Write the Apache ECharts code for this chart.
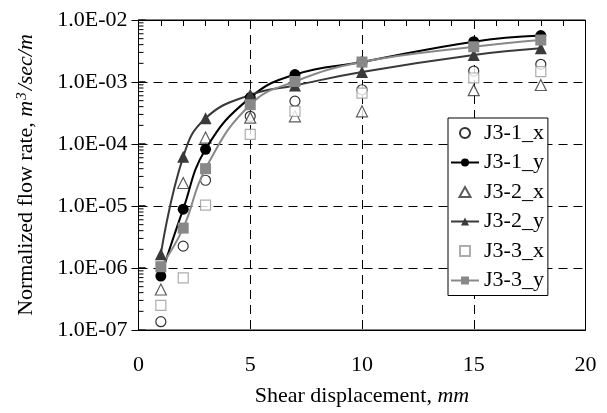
<!DOCTYPE html>
<html>
<head>
<meta charset="utf-8">
<script src="https://cdn.jsdelivr.net/npm/echarts@6/dist/echarts.min.js"></script>
<style>
html,body{margin:0;padding:0;background:#fff;}
#chart{width:607px;height:413px;}
</style>
</head>
<body>
<div id="chart"></div>
<script>
// ---- data ----
var shearDisp = [1, 2, 3, 5, 7, 10, 15, 18];
var j31x = [1.36e-7, 2.25e-6, 2.6e-5, 2.8e-4, 4.9e-4, 7.5e-4, 1.5e-3, 1.93e-3];
var j31y = [7.4e-7, 8.9e-6, 8.2e-5, 5.6e-4, 1.32e-3, 2.1e-3, 4.47e-3, 5.6e-3];
var j32x = [4.5e-7, 2.35e-5, 1.27e-4, 2.66e-4, 2.8e-4, 3.37e-4, 7.4e-4, 8.95e-4];
var j32y = [1.66e-6, 6.2e-5, 2.6e-4, 6.2e-4, 8.8e-4, 1.45e-3, 2.72e-3, 3.5e-3];
var j33x = [2.5e-7, 6.95e-7, 1.03e-5, 1.43e-4, 3.37e-4, 6.6e-4, 1.16e-3, 1.47e-3];
var j33y = [1.05e-6, 4.4e-6, 4.0e-5, 4.3e-4, 1.02e-3, 2.1e-3, 3.7e-3, 4.75e-3];
var seriesNames = ['J3-1_x', 'J3-1_y', 'J3-2_x', 'J3-2_y', 'J3-3_x', 'J3-3_y'];
var xTicks = [0, 5, 10, 15, 20];
var yMin = 1e-7, yMax = 1e-2;

function pairs(ys) { return shearDisp.map(function (x, i) { return [x, ys[i]]; }); }

var FONT = 'Liberation Serif';

function openSeries(name, data, symbol, size, border) {
  return {
    name: name, type: 'scatter', data: pairs(data), symbol: symbol, symbolSize: size,
    itemStyle: { color: '#fff', borderColor: border, borderWidth: 1.2 }, z: 3
  };
}
function lineSeries(name, data, symbol, size, color) {
  return {
    name: name, type: 'line', data: pairs(data), symbol: symbol, symbolSize: size,
    smooth: 0.45, showSymbol: true,
    lineStyle: { color: color, width: 2 },
    itemStyle: { color: color, borderColor: color, borderWidth: 0 }, z: 4
  };
}

// legend icons for marker-only series (path icons keep their aspect ratio)
var legendIcons = {
  'J3-1_x': 'path://M5,1 A4,4 0 1 1 4.99,1 Z',
  'J3-2_x': 'path://M0,10 L5,1 L10,10 Z',
  'J3-3_x': 'path://M0,0 L10,0 L10,10 L0,10 Z'
};

var chart = echarts.init(document.getElementById('chart'), null, { renderer: 'canvas' });

var option = {
  animation: false,
  backgroundColor: '#fff',
  textStyle: { fontFamily: FONT, color: '#000' },
  grid: { left: 138.5, right: 21.5, top: 20, bottom: 83, show: true, borderColor: '#000', borderWidth: 1, backgroundColor: 'transparent' },
  legend: {
    orient: 'vertical', left: 448, top: 118,
    data: seriesNames.map(function (n) {
      return legendIcons[n] ? { name: n, icon: legendIcons[n] } : { name: n };
    }),
    backgroundColor: '#fff', borderColor: '#000', borderWidth: 1,
    padding: [4, 4, 4, 2], itemGap: 7.5, itemWidth: 28, itemHeight: 10,
    textStyle: { fontFamily: FONT, fontSize: 22, color: '#000' }
  },
  xAxis: [{
    type: 'value', min: 0, max: 20, interval: 5, position: 'bottom',
    name: 'Shear displacement, {i|mm}', nameLocation: 'middle', nameGap: 55,
    nameTextStyle: { fontFamily: FONT, fontSize: 22, color: '#000',
      rich: { i: { fontFamily: FONT, fontSize: 22, fontStyle: 'italic', color: '#000' } } },
    axisLine: { show: true, lineStyle: { color: '#000', width: 1 } },
    axisTick: { show: false },
    axisLabel: { fontFamily: FONT, fontSize: 22, color: '#000', margin: 24,
      formatter: function (v) { return xTicks.indexOf(v) >= 0 ? String(v) : ''; } },
    splitLine: { show: true, lineStyle: { color: '#000', type: [9, 6], width: 1 } }
  }, {
    type: 'value', min: 0, max: 20, interval: 1, position: 'top',
    axisLine: { show: true, lineStyle: { color: '#000', width: 1 } },
    axisTick: { show: true, inside: true, length: 6, lineStyle: { color: '#000' } },
    axisLabel: { show: false }, splitLine: { show: false }
  }],
  yAxis: [{
    type: 'log', logBase: 10, min: yMin, max: yMax, interval: 1,
    name: 'Normalized flow rate, {i|m}{sup|3}{i|/sec/m}', nameLocation: 'middle', nameGap: 101,
    nameTextStyle: { fontFamily: FONT, fontSize: 22, color: '#000',
      rich: {
        i: { fontFamily: FONT, fontSize: 22, fontStyle: 'italic', color: '#000' },
        sup: { fontFamily: FONT, fontSize: 15, fontStyle: 'italic', color: '#000', verticalAlign: 'top', padding: [0, 2, 8, 1] }
      } },
    axisLine: { show: true, lineStyle: { color: '#000', width: 1 } },
    axisTick: { show: true, inside: false, length: 7, lineStyle: { color: '#000' } },
    axisLabel: { fontFamily: FONT, fontSize: 22, color: '#000', margin: 11,
      formatter: function (v) {
        var e = Math.round(Math.log10(v));
        return '1.0E' + (e < 0 ? '-' : '+') + (Math.abs(e) < 10 ? '0' : '') + Math.abs(e);
      } },
    splitLine: { show: true, lineStyle: { color: '#000', type: [9, 6], width: 1 } }
  }],
  series: [
    openSeries(seriesNames[0], j31x, 'circle', 10, '#000'),
    lineSeries(seriesNames[1], j31y, 'circle', 11, '#000'),
    openSeries(seriesNames[2], j32x, 'triangle', 11, '#333'),
    lineSeries(seriesNames[3], j32y, 'triangle', 12, '#3a3a3a'),
    openSeries(seriesNames[4], j33x, 'rect', 10, '#999'),
    lineSeries(seriesNames[5], j33y, 'rect', 11, '#888')
  ]
};
chart.setOption(option);

// inner log ticks on the left axis (2..9 per decade + decades), positioned by the axis scale
var g = [];
var x0 = chart.convertToPixel({ xAxisIndex: 0 }, 0);
for (var k = -7; k < -2; k++) {
  for (var m = 1; m <= 10; m++) {
    var v = m * Math.pow(10, k);
    if (v > yMax * 1.0001) continue;
    var py = chart.convertToPixel({ yAxisIndex: 0 }, v);
    var len = (m === 1 || m === 10) ? 7 : 5;
    g.push({ type: 'line', shape: { x1: x0, y1: py, x2: x0 + len, y2: py },
      style: { stroke: '#000', lineWidth: 1 }, z: 10, silent: true });
  }
}
chart.setOption({ graphic: g });
</script>
</body>
</html>
